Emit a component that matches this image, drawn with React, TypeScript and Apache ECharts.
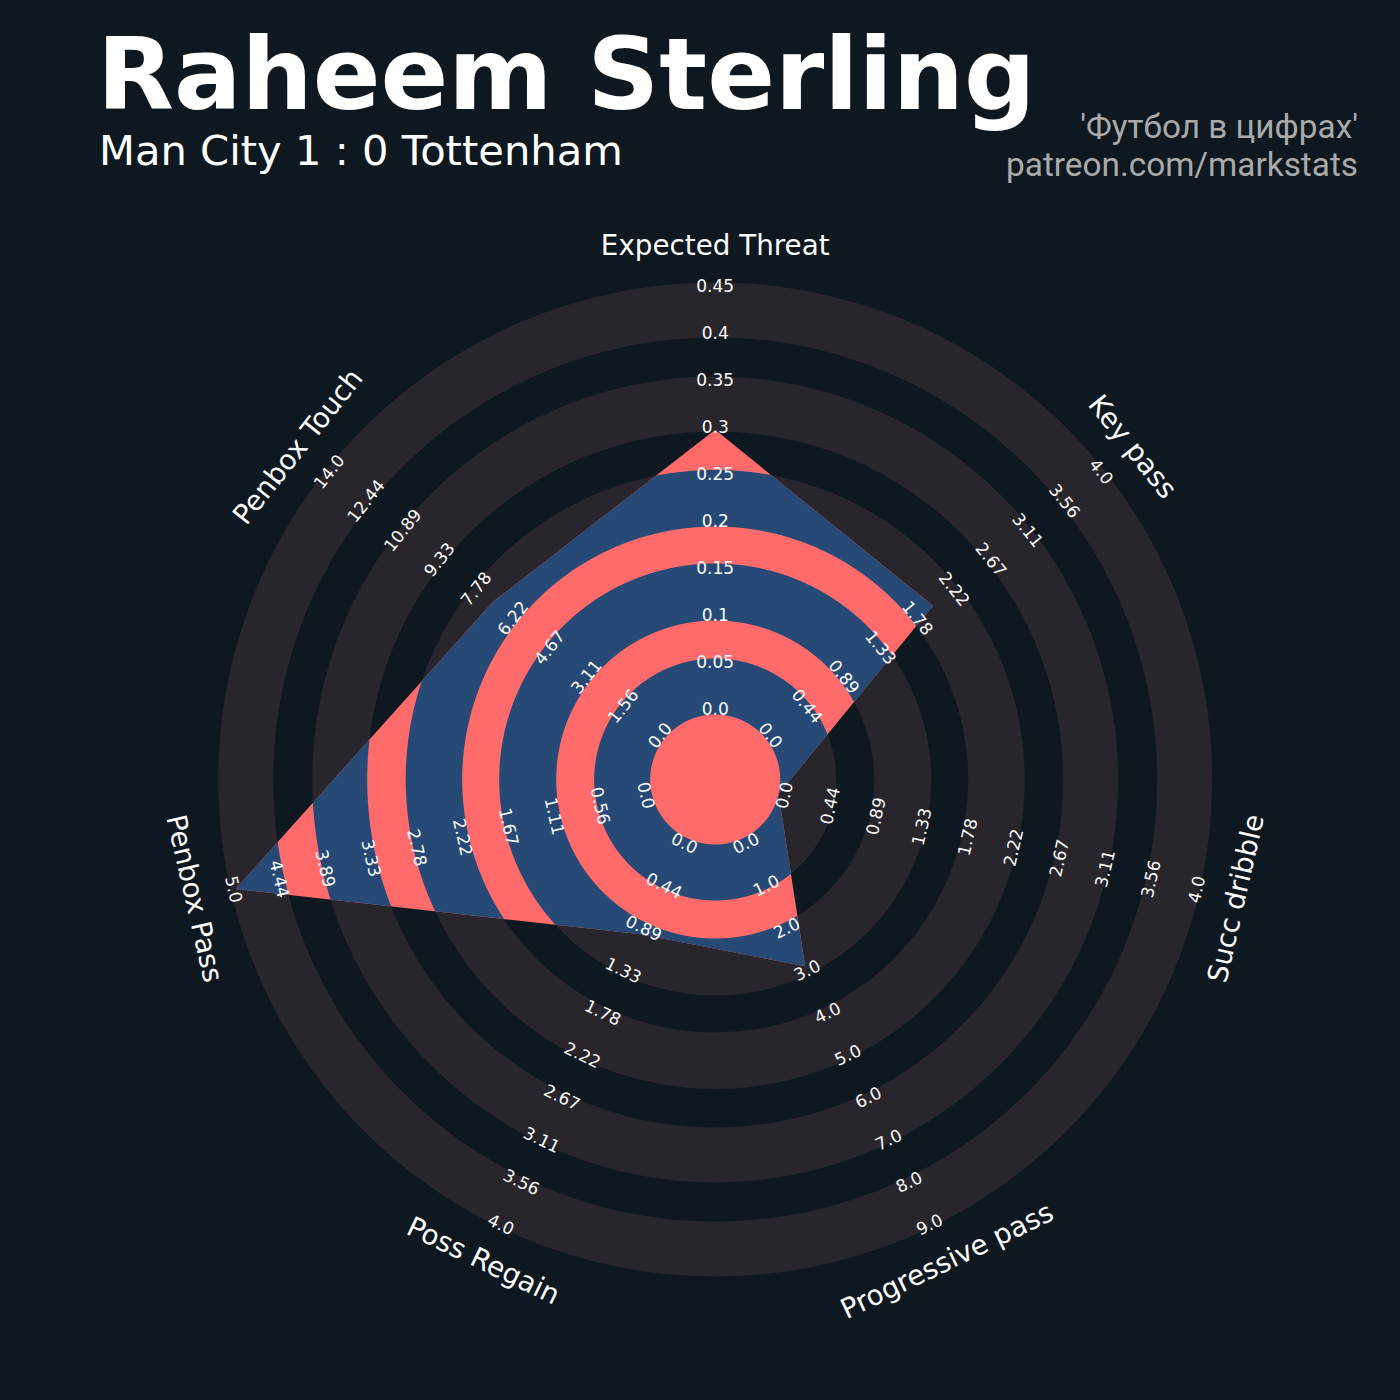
import React, { useEffect, useRef } from "react";
import * as echarts from "echarts";

// ---------- data ----------
const PLAYER = "Raheem Sterling";
const MATCH = "Man City 1 : 0 Tottenham";
const CREDIT_1 = "'Футбол в цифрах'";
const CREDIT_2 = "patreon.com/markstats";

const PARAMS = [
  "Expected Threat",
  "Key pass",
  "Succ dribble",
  "Progressive pass",
  "Poss Regain",
  "Penbox Pass",
  "Penbox Touch",
];
const MIN_RANGE = [0, 0, 0, 0, 0, 0, 0];
const MAX_RANGE = [0.45, 4, 4, 9, 4, 5, 14];
const VALUES = [0.3, 2, 0, 3, 1, 5, 7.2];

const TICKS_XT = ["0.0", "0.05", "0.1", "0.15", "0.2", "0.25", "0.3", "0.35", "0.4", "0.45"];
const TICKS_KEY_PASS = ["0.0", "0.44", "0.89", "1.33", "1.78", "2.22", "2.67", "3.11", "3.56", "4.0"];
const TICKS_DRIBBLE = ["0.0", "0.44", "0.89", "1.33", "1.78", "2.22", "2.67", "3.11", "3.56", "4.0"];
const TICKS_PROG_PASS = ["0.0", "1.0", "2.0", "3.0", "4.0", "5.0", "6.0", "7.0", "8.0", "9.0"];
const TICKS_REGAIN = ["0.0", "0.44", "0.89", "1.33", "1.78", "2.22", "2.67", "3.11", "3.56", "4.0"];
const TICKS_PEN_PASS = ["0.0", "0.56", "1.11", "1.67", "2.22", "2.78", "3.33", "3.89", "4.44", "5.0"];
const TICKS_PEN_TOUCH = ["0.0", "1.56", "3.11", "4.67", "6.22", "7.78", "9.33", "10.89", "12.44", "14.0"];
const TICKS = [TICKS_XT, TICKS_KEY_PASS, TICKS_DRIBBLE, TICKS_PROG_PASS, TICKS_REGAIN, TICKS_PEN_PASS, TICKS_PEN_TOUCH];

// ---------- layout (pixels) ----------
const CX = 715.2;
const CY = 779.5;
const OUTER = 497;
const R_ZERO = 65; // radius of value = min
const R_FULL = 492; // radius of value = max
const RING_EDGES = [65, 121, 159, 216, 253, 309.5, 348, 403, 442, 497];
const LABEL_R0 = 70.8;
const LABEL_STEP = 47;
const NAME_R = 534;

// ---------- style ----------
const BG = "#0e1820";
const GRAY = "#28252c";
const SALMON = "#ff6b6b";
const BLUE = "#264a75";
const FONT = "DejaVu Sans";

const toF = (px: number) => (px - R_ZERO) / (R_FULL - R_ZERO);
const F_MIN = toF(0);
const F_MAX = toF(OUTER);

function textRotation(deg: number) {
  let rot = -deg;
  while (rot <= -90) rot += 180;
  while (rot > 90) rot -= 180;
  return (rot * Math.PI) / 180;
}

function renderRadar(params: any, api: any) {
  const cx = params.coordSys.cx;
  const cy = params.coordSys.cy;
  const n = PARAMS.length;
  const angleOf = (i: number) => (i * 360) / n;
  const radiusPx = (px: number) => {
    const p = api.coord([toF(px), 0]);
    return Math.hypot(p[0] - cx, p[1] - cy);
  };
  const children: any[] = [];

  // rings (full, gray)
  const rings: [number, number][] = [];
  for (let k = 0; k + 1 < RING_EDGES.length; k += 2) {
    rings.push([radiusPx(RING_EDGES[k]), radiusPx(RING_EDGES[k + 1])]);
  }
  rings.forEach(([r0, r1]) => {
    children.push({ type: "ring", shape: { cx, cy, r: r1, r0 }, style: { fill: GRAY } });
  });

  // polygon vertices through the polar scales
  const verts = PARAMS.map((_, i) => {
    const f = (VALUES[i] - MIN_RANGE[i]) / (MAX_RANGE[i] - MIN_RANGE[i]);
    const p = api.coord([f, angleOf(i)]);
    return [p[0] - cx, p[1] - cy];
  });
  children.push({
    type: "polygon",
    shape: { points: verts.map((v) => [v[0] + cx, v[1] + cy]) },
    style: { fill: SALMON },
  });

  // polygon boundary radius as function of angle
  const cross = (a: number[], b: number[]) => a[0] * b[1] - a[1] * b[0];
  const SAMPLES = 360;
  const outline: [number, number][] = [];
  for (let i = 0; i < n; i++) {
    const A = verts[i];
    const B = verts[(i + 1) % n];
    const E = [B[0] - A[0], B[1] - A[1]];
    const t0 = (angleOf(i) * Math.PI) / 180;
    const t1 = (angleOf(i + 1) * Math.PI) / 180;
    for (let s = 0; s < SAMPLES; s++) {
      const th = t0 + ((t1 - t0) * s) / SAMPLES;
      const d = [Math.sin(th), -Math.cos(th)];
      const rp = s === 0 ? Math.hypot(A[0], A[1]) : cross(A, B) / cross(d, E);
      outline.push([th, rp]);
    }
  }
  outline.push([Math.PI * 2, Math.hypot(verts[0][0], verts[0][1])]);

  // rings clipped to polygon (blue)
  rings.forEach(([r0, r1]) => {
    const pts: number[][] = [];
    for (const [th, rp] of outline) {
      const ro = Math.min(r1, Math.max(r0, rp));
      pts.push([cx + ro * Math.sin(th), cy - ro * Math.cos(th)]);
    }
    for (let j = outline.length - 1; j >= 0; j--) {
      const th = outline[j][0];
      pts.push([cx + r0 * Math.sin(th), cy - r0 * Math.cos(th)]);
    }
    children.push({ type: "polygon", shape: { points: pts }, style: { fill: BLUE } });
  });

  // tick labels
  PARAMS.forEach((_, i) => {
    const deg = angleOf(i);
    const rot = textRotation(deg);
    TICKS[i].forEach((t, k) => {
      const p = api.coord([toF(LABEL_R0 + LABEL_STEP * k), deg]);
      children.push({
        type: "text",
        x: p[0],
        y: p[1],
        rotation: rot,
        style: {
          text: t,
          fill: "#fcfcfc",
          fontSize: 17,
          fontFamily: FONT,
          textAlign: "center",
          textVerticalAlign: "middle",
          align: "center",
          verticalAlign: "middle",
        },
      });
    });
    const q = api.coord([toF(NAME_R), deg]);
    children.push({
      type: "text",
      x: q[0],
      y: q[1],
      rotation: rot,
      style: {
        text: PARAMS[i],
        fill: "#fcfcfc",
        fontSize: 27.78,
        fontFamily: FONT,
        textAlign: "center",
        textVerticalAlign: "middle",
        align: "center",
        verticalAlign: "middle",
      },
    });
  });

  return { type: "group", children };
}

export default function App() {
  const ref = useRef<HTMLDivElement>(null);
  useEffect(() => {
    const chart = echarts.init(ref.current!, undefined, { renderer: "svg" });
    chart.setOption({
      animation: false,
      backgroundColor: BG,
      polar: { center: [CX, CY], radius: OUTER },
      angleAxis: { type: "value", min: 0, max: 360, startAngle: 90, clockwise: true, show: false },
      radiusAxis: { type: "value", min: F_MIN, max: F_MAX, show: false },
      graphic: [
        {
          type: "text",
          x: 97,
          y: 74,
          style: {
            text: PLAYER,
            fill: "#ffffff",
            fontSize: 100,
            lineHeight: 84,
            fontWeight: "bold",
            fontFamily: FONT,
            textAlign: "left",
            textVerticalAlign: "middle",
            align: "left",
            verticalAlign: "middle",
          },
        },
        {
          type: "text",
          x: 99,
          y: 150,
          style: {
            text: MATCH,
            fill: "#ffffff",
            fontSize: 41.67,
            lineHeight: 36,
            fontFamily: FONT,
            textAlign: "left",
            textVerticalAlign: "middle",
            align: "left",
            verticalAlign: "middle",
          },
        },
        {
          type: "text",
          x: 1358,
          y: 126,
          style: {
            text: CREDIT_1,
            fill: "#aaaaaa",
            fontSize: 33.33,
            fontFamily: "Roboto",
            textAlign: "right",
            textVerticalAlign: "middle",
            align: "right",
            verticalAlign: "middle",
          },
        },
        {
          type: "text",
          x: 1358,
          y: 164,
          style: {
            text: CREDIT_2,
            fill: "#aaaaaa",
            fontSize: 33.33,
            fontFamily: "Roboto",
            textAlign: "right",
            textVerticalAlign: "middle",
            align: "right",
            verticalAlign: "middle",
          },
        },
      ],
      series: [
        {
          type: "custom",
          coordinateSystem: "polar",
          data: [[0, 0]],
          renderItem: renderRadar,
          silent: true,
        },
      ],
    });
    return () => chart.dispose();
  }, []);
  return <div ref={ref} style={{ position: "fixed", left: 0, top: 0, width: 1400, height: 1400 }} />;
}
